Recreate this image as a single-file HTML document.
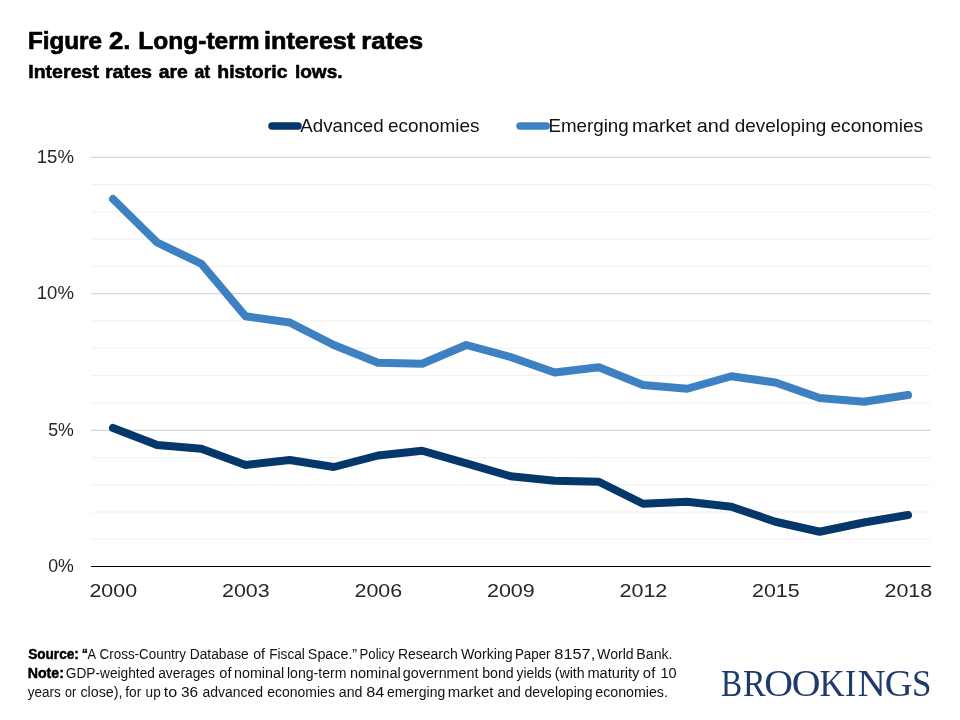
<!DOCTYPE html>
<html lang="en">
<head>
<meta charset="utf-8">
<title>Figure 2. Long-term interest rates</title>
<style>
html,body{margin:0;padding:0;background:#fff;}
body{width:960px;height:720px;overflow:hidden;}
svg{display:block;will-change:transform;}
text{font-family:"Liberation Sans",Arial,sans-serif;fill:#1e1e1e;}
text.b{font-weight:bold;fill:#000;}
text.title{stroke:#000;stroke-width:0.7px;stroke-linejoin:round;}
text.sub{stroke:#000;stroke-width:0.55px;stroke-linejoin:round;}
text.ax{fill:#262626;}
text.leg{fill:#111;}
text.ft{fill:#111;}
text.ft.b{fill:#000;stroke:#000;stroke-width:0.45px;stroke-linejoin:round;}
text.logo{font-family:"Liberation Serif","Times New Roman",serif;fill:#1f3b6e;}
</style>
</head>
<body>
<svg width="960" height="720" viewBox="0 0 960 720">
<rect width="960" height="720" fill="#ffffff"/>
<text class="b title" style="font-size:24.6px"><tspan x="27.89" y="49.1" textLength="74.19" lengthAdjust="spacingAndGlyphs">Figure</tspan></text>
<text class="b title" style="font-size:24.6px"><tspan x="108.91" y="49.1" textLength="21.46" lengthAdjust="spacingAndGlyphs">2.</tspan></text>
<text class="b title" style="font-size:24.6px"><tspan x="138.37" y="49.1" textLength="121.15" lengthAdjust="spacingAndGlyphs">Long-term</tspan></text>
<text class="b title" style="font-size:24.6px"><tspan x="263.99" y="49.1" textLength="91.31" lengthAdjust="spacingAndGlyphs">interest</tspan></text>
<text class="b title" style="font-size:24.6px"><tspan x="361.31" y="49.1" textLength="61.74" lengthAdjust="spacingAndGlyphs">rates</tspan></text>
<text class="b sub" style="font-size:18.6px"><tspan x="28.20" y="77.6" textLength="70.78" lengthAdjust="spacingAndGlyphs">Interest</tspan></text>
<text class="b sub" style="font-size:18.6px"><tspan x="104.96" y="77.6" textLength="47.09" lengthAdjust="spacingAndGlyphs">rates</tspan></text>
<text class="b sub" style="font-size:18.6px"><tspan x="158.84" y="77.6" textLength="29.02" lengthAdjust="spacingAndGlyphs">are</tspan></text>
<text class="b sub" style="font-size:18.6px"><tspan x="194.49" y="77.6" textLength="15.73" lengthAdjust="spacingAndGlyphs">at</tspan></text>
<text class="b sub" style="font-size:18.6px"><tspan x="217.25" y="77.6" textLength="70.32" lengthAdjust="spacingAndGlyphs">historic</tspan></text>
<text class="b sub" style="font-size:18.6px"><tspan x="294.92" y="77.6" textLength="47.69" lengthAdjust="spacingAndGlyphs">lows.</tspan></text>

<line x1="272" x2="298.0" y1="126" y2="126" stroke="#05376b" stroke-width="7.5" stroke-linecap="round"/>
<text class="r leg" style="font-size:18.2px"><tspan x="300.27" y="131.75" textLength="83.43" lengthAdjust="spacingAndGlyphs">Advanced</tspan></text>
<text class="r leg" style="font-size:18.2px"><tspan x="387.96" y="131.75" textLength="91.47" lengthAdjust="spacingAndGlyphs">economies</tspan></text>
<line x1="520" x2="546.2" y1="126" y2="126" stroke="#3d81c2" stroke-width="7.5" stroke-linecap="round"/>
<text class="r leg" style="font-size:18.2px"><tspan x="548.46" y="131.75" textLength="80.24" lengthAdjust="spacingAndGlyphs">Emerging</tspan></text>
<text class="r leg" style="font-size:18.2px"><tspan x="631.97" y="131.75" textLength="59.41" lengthAdjust="spacingAndGlyphs">market</tspan></text>
<text class="r leg" style="font-size:18.2px"><tspan x="696.66" y="131.75" textLength="33.21" lengthAdjust="spacingAndGlyphs">and</tspan></text>
<text class="r leg" style="font-size:18.2px"><tspan x="734.72" y="131.75" textLength="91.49" lengthAdjust="spacingAndGlyphs">developing</tspan></text>
<text class="r leg" style="font-size:18.2px"><tspan x="830.44" y="131.75" textLength="92.75" lengthAdjust="spacingAndGlyphs">economies</tspan></text>

<line x1="91" x2="930.8" y1="539.24" y2="539.24" stroke="#f0f0f0" stroke-width="1"/>
<line x1="91" x2="930.8" y1="512.03" y2="512.03" stroke="#f0f0f0" stroke-width="1"/>
<line x1="91" x2="930.8" y1="484.82" y2="484.82" stroke="#f0f0f0" stroke-width="1"/>
<line x1="91" x2="930.8" y1="457.61" y2="457.61" stroke="#f0f0f0" stroke-width="1"/>
<line x1="91" x2="930.8" y1="430.40" y2="430.40" stroke="#d8d8d8" stroke-width="1.2"/>
<line x1="91" x2="930.8" y1="403.03" y2="403.03" stroke="#f0f0f0" stroke-width="1"/>
<line x1="91" x2="930.8" y1="375.66" y2="375.66" stroke="#f0f0f0" stroke-width="1"/>
<line x1="91" x2="930.8" y1="348.29" y2="348.29" stroke="#f0f0f0" stroke-width="1"/>
<line x1="91" x2="930.8" y1="320.92" y2="320.92" stroke="#f0f0f0" stroke-width="1"/>
<line x1="91" x2="930.8" y1="293.55" y2="293.55" stroke="#d8d8d8" stroke-width="1.2"/>
<line x1="91" x2="930.8" y1="266.33" y2="266.33" stroke="#f0f0f0" stroke-width="1"/>
<line x1="91" x2="930.8" y1="239.11" y2="239.11" stroke="#f0f0f0" stroke-width="1"/>
<line x1="91" x2="930.8" y1="211.89" y2="211.89" stroke="#f0f0f0" stroke-width="1"/>
<line x1="91" x2="930.8" y1="184.67" y2="184.67" stroke="#f0f0f0" stroke-width="1"/>
<line x1="91" x2="930.8" y1="157.45" y2="157.45" stroke="#d8d8d8" stroke-width="1.2"/>
<line x1="91" x2="930.8" y1="566.45" y2="566.45" stroke="#000" stroke-width="1.15"/>
<text class="r ax" style="font-size:18.5px"><tspan x="48.21" y="572.30" textLength="25.72" lengthAdjust="spacingAndGlyphs">0%</tspan></text>
<text class="r ax" style="font-size:18.5px"><tspan x="48.19" y="436.25" textLength="25.74" lengthAdjust="spacingAndGlyphs">5%</tspan></text>
<text class="r ax" style="font-size:18.5px"><tspan x="36.79" y="299.40" textLength="37.16" lengthAdjust="spacingAndGlyphs">10%</tspan></text>
<text class="r ax" style="font-size:18.5px"><tspan x="36.79" y="163.30" textLength="37.16" lengthAdjust="spacingAndGlyphs">15%</tspan></text>
<text class="r ax" style="font-size:18.5px"><tspan x="89.48" y="597" textLength="47.60" lengthAdjust="spacingAndGlyphs">2000</tspan></text>
<text class="r ax" style="font-size:18.5px"><tspan x="221.98" y="597" textLength="47.71" lengthAdjust="spacingAndGlyphs">2003</tspan></text>
<text class="r ax" style="font-size:18.5px"><tspan x="354.48" y="597" textLength="47.71" lengthAdjust="spacingAndGlyphs">2006</tspan></text>
<text class="r ax" style="font-size:18.5px"><tspan x="486.98" y="597" textLength="47.79" lengthAdjust="spacingAndGlyphs">2009</tspan></text>
<text class="r ax" style="font-size:18.5px"><tspan x="619.47" y="597" textLength="47.85" lengthAdjust="spacingAndGlyphs">2012</tspan></text>
<text class="r ax" style="font-size:18.5px"><tspan x="751.98" y="597" textLength="47.66" lengthAdjust="spacingAndGlyphs">2015</tspan></text>
<text class="r ax" style="font-size:18.5px"><tspan x="884.48" y="597" textLength="47.70" lengthAdjust="spacingAndGlyphs">2018</tspan></text>

<polyline points="113.00,199.00 157.17,242.50 201.33,263.75 245.50,316.25 289.67,322.50 333.83,345.00 378.00,362.80 422.17,363.80 466.33,345.00 510.50,357.00 554.67,372.50 598.83,367.30 643.00,385.00 687.17,388.75 731.33,376.25 775.50,382.50 819.67,398.00 863.83,401.75 908.00,395.00" fill="none" stroke="#3d81c2" stroke-width="8" stroke-linecap="round" stroke-linejoin="round"/>
<polyline points="113.00,428.00 157.17,445.00 201.33,448.75 245.50,465.00 289.67,460.00 333.83,467.00 378.00,455.50 422.17,450.75 466.33,463.40 510.50,476.25 554.67,480.75 598.83,481.75 643.00,503.75 687.17,501.75 731.33,506.75 775.50,521.75 819.67,531.75 863.83,522.50 908.00,515.00" fill="none" stroke="#05376b" stroke-width="8" stroke-linecap="round" stroke-linejoin="round"/>

<text class="b ft" style="font-size:14px"><tspan x="28.21" y="659.3" textLength="50.59" lengthAdjust="spacingAndGlyphs">Source:</tspan></text>
<text class="b ft" style="font-size:14px"><tspan x="81.95" y="659.3" textLength="5.82" lengthAdjust="spacingAndGlyphs">“</tspan></text>
<text class="r ft" style="font-size:14px"><tspan x="87.48" y="659.3" textLength="8.54" lengthAdjust="spacingAndGlyphs">A</tspan></text>
<text class="r ft" style="font-size:14px"><tspan x="99.57" y="659.3" textLength="86.45" lengthAdjust="spacingAndGlyphs">Cross-Country</tspan></text>
<text class="r ft" style="font-size:14px"><tspan x="189.77" y="659.3" textLength="58.94" lengthAdjust="spacingAndGlyphs">Database</tspan></text>
<text class="r ft" style="font-size:14px"><tspan x="253.16" y="659.3" textLength="11.82" lengthAdjust="spacingAndGlyphs">of</tspan></text>
<text class="r ft" style="font-size:14px"><tspan x="269.13" y="659.3" textLength="35.79" lengthAdjust="spacingAndGlyphs">Fiscal</tspan></text>
<text class="r ft" style="font-size:14px"><tspan x="307.86" y="659.3" textLength="49.26" lengthAdjust="spacingAndGlyphs">Space.”</tspan></text>
<text class="r ft" style="font-size:14px"><tspan x="359.62" y="659.3" textLength="35.00" lengthAdjust="spacingAndGlyphs">Policy</tspan></text>
<text class="r ft" style="font-size:14px"><tspan x="397.95" y="659.3" textLength="59.85" lengthAdjust="spacingAndGlyphs">Research</tspan></text>
<text class="r ft" style="font-size:14px"><tspan x="460.94" y="659.3" textLength="51.76" lengthAdjust="spacingAndGlyphs">Working</tspan></text>
<text class="r ft" style="font-size:14px"><tspan x="514.91" y="659.3" textLength="35.61" lengthAdjust="spacingAndGlyphs">Paper</tspan></text>
<text class="r ft" style="font-size:14px"><tspan x="554.30" y="659.3" textLength="40.98" lengthAdjust="spacingAndGlyphs">8157,</tspan></text>
<text class="r ft" style="font-size:14px"><tspan x="597.14" y="659.3" textLength="36.56" lengthAdjust="spacingAndGlyphs">World</tspan></text>
<text class="r ft" style="font-size:14px"><tspan x="636.34" y="659.3" textLength="36.19" lengthAdjust="spacingAndGlyphs">Bank.</tspan></text>
<text class="b ft" style="font-size:14px"><tspan x="27.66" y="678" textLength="36.21" lengthAdjust="spacingAndGlyphs">Note:</tspan></text>
<text class="r ft" style="font-size:14px"><tspan x="65.82" y="678" textLength="89.06" lengthAdjust="spacingAndGlyphs">GDP-weighted</tspan></text>
<text class="r ft" style="font-size:14px"><tspan x="158.17" y="678" textLength="56.72" lengthAdjust="spacingAndGlyphs">averages</tspan></text>
<text class="r ft" style="font-size:14px"><tspan x="219.39" y="678" textLength="12.18" lengthAdjust="spacingAndGlyphs">of</tspan></text>
<text class="r ft" style="font-size:14px"><tspan x="234.06" y="678" textLength="50.10" lengthAdjust="spacingAndGlyphs">nominal</tspan></text>
<text class="r ft" style="font-size:14px"><tspan x="286.96" y="678" textLength="59.57" lengthAdjust="spacingAndGlyphs">long-term</tspan></text>
<text class="r ft" style="font-size:14px"><tspan x="349.94" y="678" textLength="50.72" lengthAdjust="spacingAndGlyphs">nominal</tspan></text>
<text class="r ft" style="font-size:14px"><tspan x="402.81" y="678" textLength="75.69" lengthAdjust="spacingAndGlyphs">government</tspan></text>
<text class="r ft" style="font-size:14px"><tspan x="482.19" y="678" textLength="31.46" lengthAdjust="spacingAndGlyphs">bond</tspan></text>
<text class="r ft" style="font-size:14px"><tspan x="516.57" y="678" textLength="35.17" lengthAdjust="spacingAndGlyphs">yields</tspan></text>
<text class="r ft" style="font-size:14px"><tspan x="554.72" y="678" textLength="29.90" lengthAdjust="spacingAndGlyphs">(with</tspan></text>
<text class="r ft" style="font-size:14px"><tspan x="587.44" y="678" textLength="51.99" lengthAdjust="spacingAndGlyphs">maturity</tspan></text>
<text class="r ft" style="font-size:14px"><tspan x="642.88" y="678" textLength="12.39" lengthAdjust="spacingAndGlyphs">of</tspan></text>
<text class="r ft" style="font-size:14px"><tspan x="660.40" y="678" textLength="16.17" lengthAdjust="spacingAndGlyphs">10</tspan></text>
<text class="r ft" style="font-size:14px"><tspan x="27.87" y="696.8" textLength="32.91" lengthAdjust="spacingAndGlyphs">years</tspan></text>
<text class="r ft" style="font-size:14px"><tspan x="64.98" y="696.8" textLength="11.13" lengthAdjust="spacingAndGlyphs">or</tspan></text>
<text class="r ft" style="font-size:14px"><tspan x="80.40" y="696.8" textLength="42.14" lengthAdjust="spacingAndGlyphs">close),</tspan></text>
<text class="r ft" style="font-size:14px"><tspan x="125.21" y="696.8" textLength="16.02" lengthAdjust="spacingAndGlyphs">for</tspan></text>
<text class="r ft" style="font-size:14px"><tspan x="145.62" y="696.8" textLength="15.15" lengthAdjust="spacingAndGlyphs">up</tspan></text>
<text class="r ft" style="font-size:14px"><tspan x="163.76" y="696.8" textLength="13.41" lengthAdjust="spacingAndGlyphs">to</tspan></text>
<text class="r ft" style="font-size:14px"><tspan x="181.01" y="696.8" textLength="17.16" lengthAdjust="spacingAndGlyphs">36</tspan></text>
<text class="r ft" style="font-size:14px"><tspan x="202.51" y="696.8" textLength="60.58" lengthAdjust="spacingAndGlyphs">advanced</tspan></text>
<text class="r ft" style="font-size:14px"><tspan x="267.21" y="696.8" textLength="67.69" lengthAdjust="spacingAndGlyphs">economies</tspan></text>
<text class="r ft" style="font-size:14px"><tspan x="338.80" y="696.8" textLength="23.71" lengthAdjust="spacingAndGlyphs">and</tspan></text>
<text class="r ft" style="font-size:14px"><tspan x="366.20" y="696.8" textLength="18.02" lengthAdjust="spacingAndGlyphs">84</tspan></text>
<text class="r ft" style="font-size:14px"><tspan x="386.91" y="696.8" textLength="58.28" lengthAdjust="spacingAndGlyphs">emerging</tspan></text>
<text class="r ft" style="font-size:14px"><tspan x="447.81" y="696.8" textLength="45.69" lengthAdjust="spacingAndGlyphs">market</tspan></text>
<text class="r ft" style="font-size:14px"><tspan x="497.51" y="696.8" textLength="23.28" lengthAdjust="spacingAndGlyphs">and</tspan></text>
<text class="r ft" style="font-size:14px"><tspan x="524.42" y="696.8" textLength="68.08" lengthAdjust="spacingAndGlyphs">developing</tspan></text>
<text class="r ft" style="font-size:14px"><tspan x="595.30" y="696.8" textLength="72.58" lengthAdjust="spacingAndGlyphs">economies.</tspan></text>
<text class="logo" style="font-size:38.3px"><tspan x="721.00" y="695.7" textLength="21.14" lengthAdjust="spacingAndGlyphs">B</tspan><tspan x="743.03" y="695.7" textLength="22.60" lengthAdjust="spacingAndGlyphs">R</tspan><tspan x="764.37" y="695.7" textLength="28.75" lengthAdjust="spacingAndGlyphs">O</tspan><tspan x="791.87" y="695.7" textLength="28.75" lengthAdjust="spacingAndGlyphs">O</tspan><tspan x="819.61" y="695.7" textLength="25.15" lengthAdjust="spacingAndGlyphs">K</tspan><tspan x="845.05" y="695.7" textLength="11.12" lengthAdjust="spacingAndGlyphs">I</tspan><tspan x="857.64" y="695.7" textLength="28.25" lengthAdjust="spacingAndGlyphs">N</tspan><tspan x="884.67" y="695.7" textLength="27.78" lengthAdjust="spacingAndGlyphs">G</tspan><tspan x="912.07" y="695.7" textLength="19.49" lengthAdjust="spacingAndGlyphs">S</tspan></text>
</svg>
</body>
</html>
